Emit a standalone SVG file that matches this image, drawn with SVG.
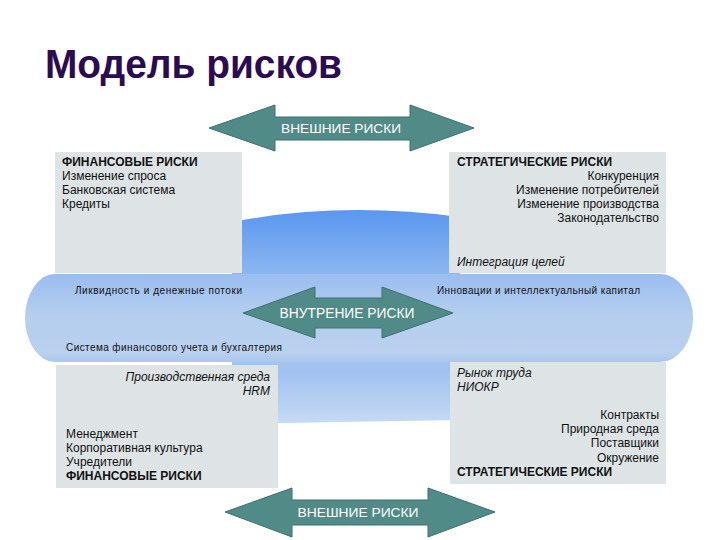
<svg xmlns="http://www.w3.org/2000/svg" width="720" height="540" viewBox="0 0 720 540">
<defs>
<linearGradient id="gCenter" x1="0" y1="0" x2="0" y2="1">
<stop offset="0" stop-color="#5a97ef"/>
<stop offset="0.3" stop-color="#8cb6f0"/>
<stop offset="0.6" stop-color="#b3cdee"/>
<stop offset="0.75" stop-color="#9fc1f0"/>
<stop offset="1" stop-color="#c6daf4"/>
</linearGradient>
<linearGradient id="gBand" x1="0" y1="0" x2="0" y2="1">
<stop offset="0" stop-color="#9abdf0"/>
<stop offset="0.5" stop-color="#b6cfee"/>
<stop offset="0.9" stop-color="#b9d0ee"/>
<stop offset="1" stop-color="#a9c7ef"/>
</linearGradient>
<style>
.box{fill:#dee4e6}
.t{font-family:"Liberation Sans",Arial,sans-serif;font-size:12px;fill:#111}
.b{font-weight:bold}
.i{font-style:italic}
.r{text-anchor:end}
.s{font-size:10px}
.arrow{fill:#508b88;stroke:#3e716e;stroke-width:1}
.at{font-family:"Liberation Sans",Arial,sans-serif;fill:#ffffff;text-anchor:middle}
</style>
</defs>
<rect width="720" height="540" fill="#ffffff"/>
<text x="45" y="78" font-family="'Liberation Sans',Arial,sans-serif" font-size="40" font-weight="bold" fill="#2b0b54" textLength="297" lengthAdjust="spacingAndGlyphs">Модель рисков</text>

<g id="background-shape">
<path d="M232,222 Q340,201 460,217 L460,420 L232,424 Z" fill="url(#gCenter)"/>
<path d="M55,274 H660 A33,44 0 0 1 660,362 H55 A30,44 0 0 1 55,274 Z" fill="url(#gBand)"/>
</g>

<g id="fin-top">
<rect class="box" x="55" y="152" width="187" height="121"/>
<text class="t b" x="62" y="166">ФИНАНСОВЫЕ РИСКИ</text>
<text class="t" x="62" y="180">Изменение спроса</text>
<text class="t" x="62" y="194">Банковская система</text>
<text class="t" x="62" y="208">Кредиты</text>
</g>

<g id="strat-top">
<rect class="box" x="449" y="152" width="217" height="121"/>
<text class="t b" x="457" y="166">СТРАТЕГИЧЕСКИЕ РИСКИ</text>
<text class="t r" x="659" y="180">Конкуренция</text>
<text class="t r" x="659" y="194">Изменение потребителей</text>
<text class="t r" x="659" y="208">Изменение производства</text>
<text class="t r" x="659" y="222">Законодательство</text>
<text class="t i" x="457" y="266">Интеграция целей</text>
</g>

<g id="band-labels">
<text class="t s" x="75" y="294" textLength="167">Ликвидность и денежные потоки</text>
<text class="t s" x="437" y="294" textLength="203">Инновации и интеллектуальный капитал</text>
<text class="t s" x="66" y="351" textLength="216">Система финансового учета и бухгалтерия</text>
</g>

<g id="fin-bottom">
<rect class="box" x="56" y="365" width="222" height="123"/>
<text class="t i r" x="270" y="381">Производственная среда</text>
<text class="t i r" x="270" y="395">HRM</text>
<text class="t" x="66" y="438">Менеджмент</text>
<text class="t" x="66" y="452">Корпоративная культура</text>
<text class="t" x="66" y="466">Учредители</text>
<text class="t b" x="66" y="480">ФИНАНСОВЫЕ РИСКИ</text>
</g>

<g id="strat-bottom">
<rect class="box" x="450" y="362" width="216" height="122"/>
<text class="t i" x="457" y="377">Рынок труда</text>
<text class="t i" x="457" y="391">НИОКР</text>
<text class="t r" x="659" y="419">Контракты</text>
<text class="t r" x="659" y="433">Природная среда</text>
<text class="t r" x="659" y="447">Поставщики</text>
<text class="t r" x="659" y="462">Окружение</text>
<text class="t b" x="457" y="476">СТРАТЕГИЧЕСКИЕ РИСКИ</text>
</g>

<g id="connectors">
<g id="ext-top">
<path class="arrow" d="M209,128 L275,105 L275,117 L410,117 L410,105 L474,128 L410,151 L410,140 L275,140 L275,151 Z"/>
<text class="at" x="341" y="133" font-size="13" textLength="120" lengthAdjust="spacingAndGlyphs">ВНЕШНИЕ РИСКИ</text>
</g>
<g id="internal">
<path class="arrow" d="M243,313 L315,287 L315,298 L382,298 L382,287 L453,313 L382,338 L382,328 L315,328 L315,338 Z"/>
<text class="at" x="347" y="318" font-size="14" textLength="135" lengthAdjust="spacingAndGlyphs">ВНУТРЕНИЕ РИСКИ</text>
</g>
<g id="ext-bottom">
<path class="arrow" d="M225,512 L292,488 L292,500 L428,500 L428,488 L495,512 L428,537 L428,525 L292,525 L292,537 Z"/>
<text class="at" x="358" y="517" font-size="13" textLength="121" lengthAdjust="spacingAndGlyphs">ВНЕШНИЕ РИСКИ</text>
</g>
</g>
</svg>
